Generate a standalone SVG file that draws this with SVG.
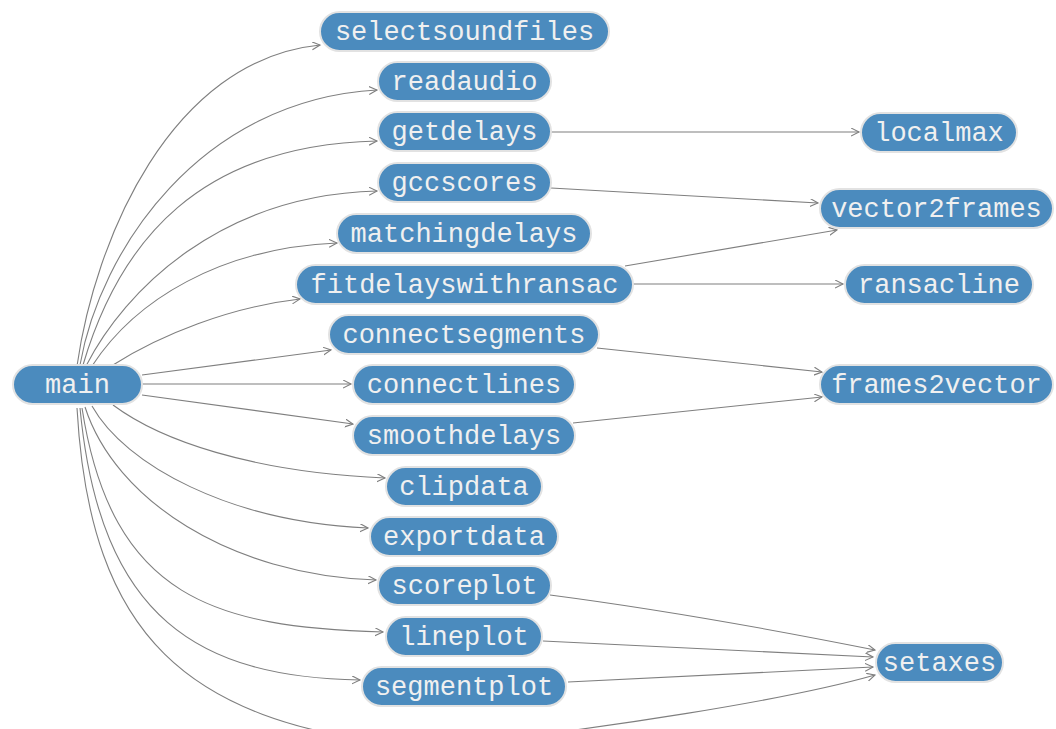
<svg xmlns="http://www.w3.org/2000/svg" width="1056" height="729" viewBox="0 0 1056 729">
<style>
.n rect{fill:#4b8bbe;stroke:#e2e2e2;stroke-width:2}
.n text{fill:#f0f0f0;font-family:"Liberation Mono","DejaVu Sans Mono",monospace;font-size:27px;text-anchor:middle}
.e path{fill:none;stroke:#7f7f7f;stroke-width:1.1;marker-end:url(#a)}
</style>
<defs>
<marker id="a" markerUnits="userSpaceOnUse" markerWidth="10" markerHeight="10" refX="8" refY="4" orient="auto">
<path d="M0,0 L8,4 L0,8" fill="none" stroke="#7f7f7f" stroke-width="1.1"/>
</marker>
</defs>
<rect width="1056" height="729" fill="#ffffff"/>
<g class="e" id="edges">
<path d="M77,366 C95,240 170,60 320,45"/>
<path d="M80,365 C100,250 200,100 377,90"/>
<path d="M83,365 C120,240 200,145 377,141"/>
<path d="M86,366 C125,290 220,195 377,191"/>
<path d="M92,366 C135,300 220,248 337,243"/>
<path d="M113,365 C160,335 230,307 300,299"/>
<path d="M142,375 L331,350"/>
<path d="M142,384 L351,384"/>
<path d="M142,395 L353,424"/>
<path d="M113,405 C160,440 250,472 385,478"/>
<path d="M92,406 C125,465 230,522 368,528"/>
<path d="M85,407 C115,500 230,575 376,580"/>
<path d="M82,408 C112,600 217,627 383,632"/>
<path d="M80,408 C100,620 200,677 360,680"/>
<path d="M77,408 C90,640 190,720 400,745" style="marker-end:none"/>
<path d="M551,132 L859,132"/>
<path d="M551,188 L818,203"/>
<path d="M625,266 L837,230"/>
<path d="M633,284 L843,284"/>
<path d="M597,348 L822,372"/>
<path d="M573,423 L822,397"/>
<path d="M550,595 C680,612 800,635 875,650"/>
<path d="M543,641 L873,657"/>
<path d="M568,682 L873,667"/>
<path d="M480,742 C600,728 780,702 875,675"/>
</g>
<g class="n" id="main"><rect x="13" y="365" width="129" height="39" rx="19.5"/><text x="77.5" y="393">main</text></g>
<g class="n" id="selectsoundfiles"><rect x="320" y="12" width="289" height="39" rx="19.5"/><text x="464.5" y="40">selectsoundfiles</text></g>
<g class="n" id="readaudio"><rect x="378" y="62" width="173" height="39" rx="19.5"/><text x="464.5" y="90">readaudio</text></g>
<g class="n" id="getdelays"><rect x="378" y="112" width="173" height="39" rx="19.5"/><text x="464.5" y="140">getdelays</text></g>
<g class="n" id="gccscores"><rect x="378" y="163" width="173" height="39" rx="19.5"/><text x="464.5" y="191">gccscores</text></g>
<g class="n" id="matchingdelays"><rect x="337" y="214" width="254" height="39" rx="19.5"/><text x="464" y="242">matchingdelays</text></g>
<g class="n" id="fitdelayswithransac"><rect x="296" y="265" width="337" height="39" rx="19.5"/><text x="464.5" y="293">fitdelayswithransac</text></g>
<g class="n" id="connectsegments"><rect x="329" y="315" width="270" height="39" rx="19.5"/><text x="464" y="343">connectsegments</text></g>
<g class="n" id="connectlines"><rect x="353" y="365" width="222" height="39" rx="19.5"/><text x="464" y="393">connectlines</text></g>
<g class="n" id="smoothdelays"><rect x="353" y="416" width="222" height="39" rx="19.5"/><text x="464" y="444">smoothdelays</text></g>
<g class="n" id="clipdata"><rect x="386" y="467" width="156" height="39" rx="19.5"/><text x="464" y="495">clipdata</text></g>
<g class="n" id="exportdata"><rect x="370" y="517" width="188" height="39" rx="19.5"/><text x="464" y="545">exportdata</text></g>
<g class="n" id="scoreplot"><rect x="378" y="566" width="173" height="39" rx="19.5"/><text x="464.5" y="594">scoreplot</text></g>
<g class="n" id="lineplot"><rect x="386" y="617" width="156" height="39" rx="19.5"/><text x="464" y="645">lineplot</text></g>
<g class="n" id="segmentplot"><rect x="362" y="667" width="204" height="39" rx="19.5"/><text x="464" y="695">segmentplot</text></g>
<g class="n" id="localmax"><rect x="861" y="113" width="156" height="39" rx="19.5"/><text x="939" y="141">localmax</text></g>
<g class="n" id="vector2frames"><rect x="820" y="189" width="233" height="39" rx="19.5"/><text x="936.5" y="217">vector2frames</text></g>
<g class="n" id="ransacline"><rect x="845" y="265" width="188" height="39" rx="19.5"/><text x="939" y="293">ransacline</text></g>
<g class="n" id="frames2vector"><rect x="820" y="365" width="233" height="39" rx="19.5"/><text x="936.5" y="393">frames2vector</text></g>
<g class="n" id="setaxes"><rect x="876" y="643" width="127" height="39" rx="19.5"/><text x="939.5" y="671">setaxes</text></g>
</svg>
